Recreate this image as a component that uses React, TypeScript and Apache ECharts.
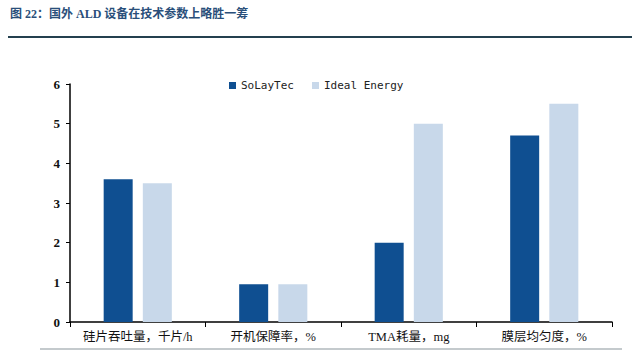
import React, { useEffect, useRef } from "react";
import * as echarts from "echarts";

const categories = ["硅片吞吐量，千片/h", "开机保障率，%", "TMA耗量，mg", "膜层均匀度，%"];
const seriesNames = ["SoLayTec", "Ideal Energy"];
const soLayTec = [3.6, 0.95, 2.0, 4.7];
const idealEnergy = [3.5, 0.95, 5.0, 5.5];
const yTicks = [0, 1, 2, 3, 4, 5, 6];

export default function App() {
  const ref = useRef<HTMLDivElement>(null);
  useEffect(() => {
    const chart = echarts.init(ref.current!, null, { renderer: "svg" });
    chart.setOption({
      animation: false,
      backgroundColor: "#ffffff",
      graphic: [
        {
          type: "text",
          left: 10,
          top: 8,
          style: {
            text: "图 22：国外 ALD 设备在技术参数上略胜一筹",
            fill: "#2a4f7a",
            font: "bold 12px 'Liberation Serif', 'Noto Sans CJK SC'",
          },
        },
        {
          type: "line",
          shape: { x1: 8, y1: 37, x2: 632, y2: 37 },
          style: { stroke: "#24404f", lineWidth: 2 },
        },
        {
          type: "line",
          shape: { x1: 40, y1: 349, x2: 622, y2: 349 },
          style: { stroke: "#b0b8bc", lineWidth: 1.5 },
        },
      ],
      legend: {
        data: seriesNames,
        top: 75,
        left: 224,
        itemWidth: 7,
        itemHeight: 7,
        itemGap: 18,
        icon: "rect",
        textStyle: {
          fontFamily: "'DejaVu Sans Mono', monospace",
          fontSize: 11,
          color: "#222",
        },
      },
      grid: { left: 70, right: 28, top: 84, bottom: 32 },
      xAxis: {
        type: "category",
        data: categories,
        axisLine: { lineStyle: { color: "#000", width: 1.5 } },
        axisTick: { show: true, length: 5, lineStyle: { color: "#000" } },
        axisLabel: {
          interval: 0,
          color: "#111",
          fontSize: 12.5,
          margin: 9,
          fontFamily: "'Liberation Serif', 'Noto Sans CJK SC'",
        },
      },
      yAxis: {
        type: "value",
        min: yTicks[0],
        max: yTicks[yTicks.length - 1],
        interval: 1,
        splitLine: { show: false },
        axisLine: { show: true, lineStyle: { color: "#000", width: 1.5 } },
        axisTick: { show: true, length: 4, lineStyle: { color: "#000" } },
        axisLabel: {
          color: "#111",
          fontSize: 13,
          fontWeight: "bold",
          margin: 10,
          fontFamily: "'Liberation Serif', serif",
        },
      },
      series: [
        {
          name: seriesNames[0],
          type: "bar",
          data: soLayTec,
          barWidth: 29,
          barGap: "35%",
          itemStyle: { color: "#0f4f91" },
        },
        {
          name: seriesNames[1],
          type: "bar",
          data: idealEnergy,
          barWidth: 29,
          barGap: "35%",
          itemStyle: { color: "#c8d8ea" },
        },
      ],
    });
    return () => chart.dispose();
  }, []);
  return <div ref={ref} style={{ width: 640, height: 354, position: "absolute", left: 0, top: 0 }} />;
}
